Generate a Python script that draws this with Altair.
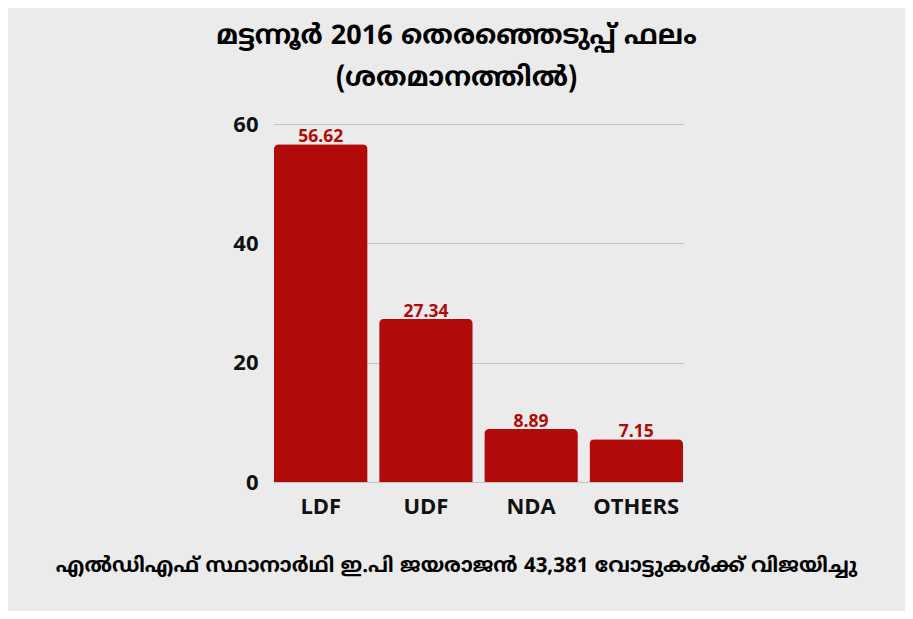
import altair as alt
import pandas as pd

parties = ["LDF", "UDF", "NDA", "OTHERS"]
shares = [56.62, 27.34, 8.89, 7.15]
y_ticks = [0, 20, 40, 60]
title_lines = ["മട്ടന്നൂർ 2016 തെരഞ്ഞെടുപ്പ് ഫലം", "(ശതമാനത്തിൽ)"]
footer = "എൽഡിഎഫ് സ്ഥാനാർഥി ഇ.പി ജയരാജൻ 43,381 വോട്ടുകൾക്ക് വിജയിച്ചു"

df = pd.DataFrame({"party": parties, "share": shares})

BAR = "#b00a0a"
ML_FONT = "Noto Sans Malayalam UI, Noto Sans Malayalam, Manjari, Noto Sans, sans-serif"
LAT_FONT = "Open Sans"

x = alt.X(
    "party:N",
    sort=parties,
    scale=alt.Scale(paddingInner=0.11, paddingOuter=0.0),
    axis=alt.Axis(
        title=footer,
        titleFont=ML_FONT,
        titleFontSize=20.5,
        titleFontWeight="bold",
        titleColor="#000000",
        titleX=182,
        titleY=89,
        titleAlign="center",
        titleBaseline="alphabetic",
        labelFont=LAT_FONT,
        labelFontSize=22,
        labelFontWeight="bold",
        labelColor="#111111",
        labelAngle=0,
        labelPadding=14,
        domain=False,
        ticks=False,
    ),
)

y = alt.Y(
    "share:Q",
    scale=alt.Scale(domain=[0, 60], nice=False),
    axis=alt.Axis(
        title=None,
        values=y_ticks,
        labelFont=LAT_FONT,
        labelFontSize=22,
        labelFontWeight="bold",
        labelColor="#111111",
        labelPadding=16,
        domain=False,
        ticks=False,
        grid=True,
        gridColor="#c4c4c4",
        gridWidth=1,
    ),
)

bars = alt.Chart(df).mark_bar(
    color=BAR, cornerRadiusTopLeft=5, cornerRadiusTopRight=5
).encode(x=x, y=y)

labels = alt.Chart(df).mark_text(
    color=BAR,
    font=LAT_FONT,
    fontSize=17.5,
    fontWeight="bold",
    baseline="alphabetic",
    dy=-2,
).encode(
    x=alt.X("party:N", sort=parties),
    y=alt.Y("share:Q"),
    text=alt.Text("share:Q", format=".2f"),
)

chart = (
    alt.layer(bars, labels)
    .properties(
        width=409,
        height=358,
        autosize=alt.AutoSizeParams(type="none"),
        padding={"left": 266, "top": 116, "right": 222, "bottom": 129},
        background="#ebebeb",
        title=alt.TitleParams(
            text=title_lines,
            font=ML_FONT,
            fontSize=27,
            fontWeight="bold",
            color="#000000",
            anchor="middle",
            dx=-22,
            offset=21,
            lineHeight=42,
        ),
    )
    .configure_view(stroke=None)
)

chart.save("out.html", embed_options={"renderer": "svg", "actions": False})
